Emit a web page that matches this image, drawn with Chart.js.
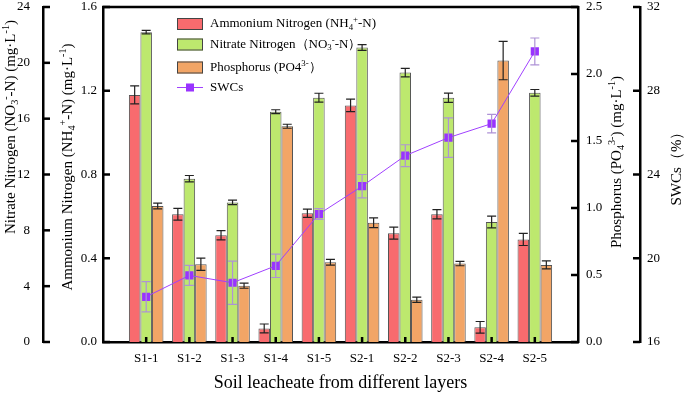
<!DOCTYPE html>
<html>
<head>
<meta charset="utf-8">
<script src="https://cdn.jsdelivr.net/npm/chart.js@4/dist/chart.umd.min.js"></script>
<style>
  body { margin: 0; background: #fff; }
</style>
</head>
<body>
<canvas id="chart" width="685" height="395"></canvas>
<script>
var categories = ['S1-1', 'S1-2', 'S1-3', 'S1-4', 'S1-5', 'S2-1', 'S2-2', 'S2-3', 'S2-4', 'S2-5'];

var nh4 = [1.18, 0.61, 0.51, 0.065, 0.615, 1.13, 0.52, 0.61, 0.07, 0.49];
var nh4Err = [0.043, 0.028, 0.022, 0.021, 0.02, 0.03, 0.029, 0.022, 0.028, 0.029];

var no3 = [22.2, 11.7, 10.0, 16.5, 17.5, 21.1, 19.3, 17.5, 8.6, 17.85];
var no3Err = [0.12, 0.23, 0.16, 0.14, 0.32, 0.21, 0.3, 0.33, 0.42, 0.24];

var po4 = [1.015, 0.58, 0.42, 1.61, 0.595, 0.89, 0.315, 0.585, 2.1, 0.575];
var po4Err = [0.021, 0.046, 0.019, 0.015, 0.021, 0.037, 0.02, 0.016, 0.143, 0.03];

var swc = [18.16, 19.18, 18.83, 19.64, 22.11, 23.44, 24.9, 25.76, 26.43, 29.88];
var swcErr = [0.72, 0.48, 1.03, 0.56, 0.26, 0.56, 0.52, 0.94, 0.44, 0.64];

// text pieces: [text, '' | 'sub' | 'sup']
var no3Title = [['Nitrate Nitrogen (NO', ''], ['3', 'sub'], ['-', 'sup'], ['-N) (mg·L', ''], ['-1', 'sup'], [')', '']];
var nh4Title = [['Ammonium Nitrogen (NH', ''], ['4', 'sub'], ['+', 'sup'], ['-N) (mg·L', ''], ['-1', 'sup'], [')', '']];
var po4Title = [['Phosphorus (PO', ''], ['4', 'sub'], ['3-', 'sup'], [') (mg·L', ''], ['-1', 'sup'], [')', '']];
var swcTitle = [['SWCs（%）', '']];
var xTitle = 'Soil leacheate from different layers';

var legendText = [
  [['Ammonium Nitrogen (NH', ''], ['4', 'sub'], ['+', 'sup'], ['-N)', '']],
  [['Nitrate Nitrogen（NO', ''], ['3', 'sub'], ['-', 'sup'], ['-N）', '']],
  [['Phosphorus (PO4', ''], ['3-', 'sup'], ['）', '']],
  [['SWCs', '']]
];

var serif = "'Times New Roman', 'Liberation Serif', serif";
var black = '#000';

// one empty slot at each end of the x axis, as in the figure
function pad(arr) { return [null].concat(arr, [null]); }

function partFont(size, mode) {
  var s = mode ? size * 0.68 : size;
  return s + 'px ' + serif;
}

function richWidth(ctx, parts, size) {
  var w = 0;
  parts.forEach(function (p) {
    ctx.font = partFont(size, p[1]);
    w += ctx.measureText(p[0]).width;
  });
  return w;
}

function drawRich(ctx, parts, x, y, size, align) {
  var cx = align === 'center' ? x - richWidth(ctx, parts, size) / 2 : x;
  ctx.textAlign = 'left';
  ctx.textBaseline = 'middle';
  parts.forEach(function (p) {
    ctx.font = partFont(size, p[1]);
    var off = p[1] === 'sub' ? size * 0.28 : (p[1] === 'sup' ? -size * 0.32 : 0);
    ctx.fillText(p[0], cx, y + off);
    cx += ctx.measureText(p[0]).width;
  });
}

function drawVertical(ctx, parts, x, y, size) {
  ctx.save();
  ctx.translate(x, y);
  ctx.rotate(-Math.PI / 2);
  drawRich(ctx, parts, 0, 0, size, 'center');
  ctx.restore();
}

var errorBars = {
  id: 'errorBars',
  afterDatasetDraw: function (chart, args) {
    var ds = chart.data.datasets[args.index];
    if (!ds.errors) return;
    var ctx = chart.ctx;
    var scale = chart.scales[ds.yAxisID];
    ctx.save();
    ctx.strokeStyle = ds.errorColor;
    ctx.lineWidth = 1.2;
    args.meta.data.forEach(function (el, i) {
      if (ds.data[i] == null) return;
      var top = scale.getPixelForValue(ds.data[i] + ds.errors[i]);
      var bot = scale.getPixelForValue(ds.data[i] - ds.errors[i]);
      ctx.beginPath();
      ctx.moveTo(el.x, top);
      ctx.lineTo(el.x, bot);
      ctx.moveTo(el.x - 4.5, top);
      ctx.lineTo(el.x + 4.5, top);
      ctx.moveTo(el.x - 4.5, bot);
      ctx.lineTo(el.x + 4.5, bot);
      ctx.stroke();
    });
    ctx.restore();
  }
};

var decorations = {
  id: 'decorations',
  afterDraw: function (chart) {
    var ctx = chart.ctx;
    var area = chart.chartArea;
    var s = chart.scales;
    ctx.save();
    ctx.strokeStyle = black;
    ctx.lineWidth = 2.5;
    // frame top
    ctx.beginPath();
    ctx.moveTo(area.left - 1, area.top);
    ctx.lineTo(area.right + 1, area.top);
    ctx.stroke();

    // inward tick marks
    function ticks(scale, x, dir) {
      scale.ticks.forEach(function (t) {
        var y = scale.getPixelForValue(t.value);
        ctx.beginPath();
        ctx.moveTo(x, y);
        ctx.lineTo(x + dir * 7, y);
        ctx.stroke();
      });
    }
    ticks(s.yN, s.yN.right, 1);
    ticks(s.yA, s.yA.right, 1);
    ticks(s.yP, s.yP.left, -1);
    ticks(s.yS, s.yS.left, -1);
    chart.data.labels.forEach(function (lab, i) {
      if (!lab) return;
      var x = s.x.getPixelForTick(i);
      ctx.beginPath();
      ctx.moveTo(x, area.bottom);
      ctx.lineTo(x, area.bottom - 5);
      ctx.stroke();
    });

    // axis titles
    ctx.fillStyle = black;
    drawVertical(ctx, no3Title, 11, 127, 15);
    drawVertical(ctx, nh4Title, 68, 167, 15);
    drawVertical(ctx, po4Title, 617, 162, 15);
    drawVertical(ctx, swcTitle, 677, 165, 15);

    // legend
    var rows = [24, 44.5, 67.5, 87.5];
    chart.data.datasets.forEach(function (ds, i) {
      var y = rows[i];
      if (ds.type === 'line') {
        ctx.strokeStyle = ds.borderColor;
        ctx.lineWidth = 1;
        ctx.beginPath();
        ctx.moveTo(177, y);
        ctx.lineTo(203, y);
        ctx.stroke();
        ctx.fillStyle = ds.pointBackgroundColor;
        ctx.fillRect(186, y - 4, 8, 8);
      } else {
        ctx.fillStyle = ds.backgroundColor;
        ctx.fillRect(177, y - 6, 26, 12);
        ctx.strokeStyle = '#444';
        ctx.lineWidth = 1;
        ctx.strokeRect(177.5, y - 5.5, 25, 11);
      }
      ctx.fillStyle = black;
      drawRich(ctx, legendText[i], 210, y, 13, 'left');
    });
    ctx.restore();
  }
};

function yAxis(position, min, max, step, weight, width, pad, digits) {
  return {
    type: 'linear',
    position: position,
    weight: weight,
    min: min,
    max: max,
    grid: { display: false, drawTicks: false },
    border: { display: true, color: black, width: 2.5 },
    ticks: {
      stepSize: step,
      padding: pad,
      color: black,
      font: { family: serif, size: 13 },
      callback: function (v) { return v.toFixed(digits); }
    },
    afterFit: function (scale) {
      scale.width = width;
      scale.paddingTop = 0;
      scale.paddingBottom = 0;
    }
  };
}

var barStyle = {
  borderColor: '#555',
  borderWidth: 1,
  barPercentage: 1,
  categoryPercentage: 0.8,
  errorColor: '#222',
  order: 1
};

new Chart(document.getElementById('chart'), {
  type: 'bar',
  data: {
    labels: [''].concat(categories, ['']),
    datasets: [
      Object.assign({ label: 'Ammonium Nitrogen (NH₄⁺-N)', data: pad(nh4), errors: pad(nh4Err), yAxisID: 'yA', backgroundColor: '#F86B6E' }, barStyle),
      Object.assign({ label: 'Nitrate Nitrogen (NO₃⁻-N)', data: pad(no3), errors: pad(no3Err), yAxisID: 'yN', backgroundColor: '#BDE86E' }, barStyle),
      Object.assign({ label: 'Phosphorus (PO₄³⁻)', data: pad(po4), errors: pad(po4Err), yAxisID: 'yP', backgroundColor: '#F2A566' }, barStyle),
      {
        type: 'line',
        label: 'SWCs',
        data: pad(swc),
        errors: pad(swcErr),
        errorColor: '#AE92D6',
        yAxisID: 'yS',
        borderColor: '#A040FF',
        borderWidth: 1,
        pointStyle: 'rect',
        pointRadius: 5.8,
        pointBackgroundColor: '#9933FF',
        pointBorderColor: '#9933FF',
        pointBorderWidth: 0,
        order: 0
      }
    ]
  },
  options: {
    responsive: false,
    animation: false,
    layout: { padding: { top: 7, left: 0, right: 0, bottom: 0 } },
    plugins: {
      legend: { display: false },
      tooltip: { enabled: false }
    },
    scales: {
      x: {
        offset: false,
        grid: { display: false, drawTicks: false },
        border: { display: true, color: black, width: 2.5 },
        ticks: {
          autoSkip: false,
          maxRotation: 0,
          padding: 9,
          color: black,
          font: { family: serif, size: 13 }
        },
        title: {
          display: true,
          text: xTitle,
          color: black,
          font: { family: serif, size: 18 },
          padding: { top: 0, bottom: 1 }
        },
        afterFit: function (scale) {
          scale.height = 53;
          scale.paddingLeft = 0;
          scale.paddingRight = 0;
        }
      },
      yN: yAxis('left', 0, 24, 4, 1, 43, 13, 0),
      yA: yAxis('left', 0, 1.6, 0.4, 0, 60, 6, 1),
      yP: yAxis('right', 0, 2.5, 0.5, 0, 62, 8, 1),
      yS: yAxis('right', 16, 32, 4, 1, 45, 7, 0)
    }
  },
  plugins: [errorBars, decorations]
});
</script>
</body>
</html>
